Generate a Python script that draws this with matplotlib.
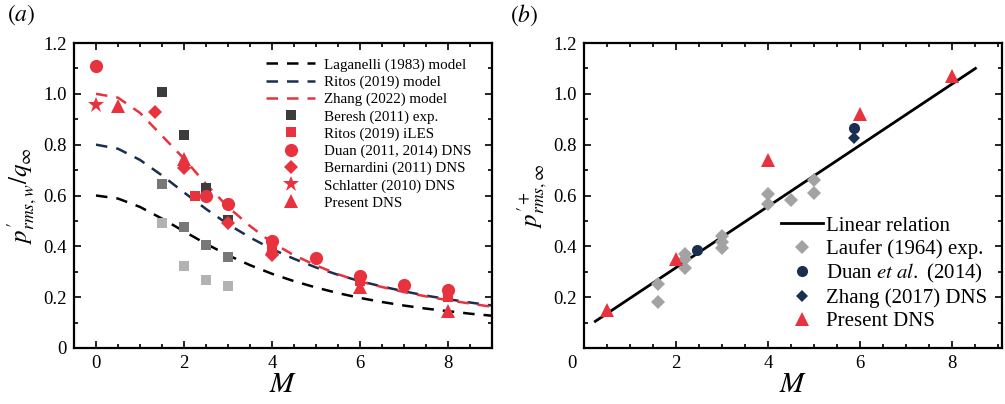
import matplotlib
matplotlib.use("Agg")
import matplotlib.pyplot as plt
from matplotlib.ticker import MultipleLocator, FixedLocator
from matplotlib.transforms import ScaledTranslation
import numpy as np

plt.rcParams['font.family'] = ['Liberation Serif', 'DejaVu Serif']
plt.rcParams['mathtext.fontset'] = 'stix'

RED = '#e8333f'
NAVY = '#1a2e50'
DARK = '#3c3c3c'
MID = '#787878'
LIGHT = '#b2b2b2'
LGRAY = '#a3a3a3'

# ---------------- panel (a) data ----------------
M_model = [0, 0.5, 1, 1.5, 2, 2.5, 3, 3.5, 4, 4.5, 5, 5.5, 6, 6.5, 7, 7.5, 8, 8.5, 9]
laganelli = [0.600, 0.588, 0.555, 0.509, 0.459, 0.410, 0.365, 0.326, 0.292, 0.263,
             0.238, 0.216, 0.197, 0.181, 0.167, 0.155, 0.145, 0.135, 0.127]
ritos_model = [0.800, 0.784, 0.740, 0.679, 0.612, 0.547, 0.487, 0.435, 0.389, 0.351,
               0.317, 0.288, 0.263, 0.242, 0.223, 0.206, 0.192, 0.179, 0.167]
zhang_model = [1.000, 0.985, 0.925, 0.835, 0.745, 0.645, 0.555, 0.480, 0.415, 0.365,
               0.325, 0.290, 0.262, 0.240, 0.220, 0.203, 0.188, 0.175, 0.162]

beresh_M = [1.5, 2, 2.5, 3]
beresh_dark = [1.008, 0.838, 0.631, 0.505]
beresh_mid = [0.644, 0.477, 0.405, 0.360]
beresh_light = [0.492, 0.323, 0.269, 0.243]

ritos_iles_M = [2.25, 4, 6, 8]
ritos_iles = [0.600, 0.400, 0.262, 0.200]

duan_M = [0, 2.5, 3, 4, 5, 6, 7, 8]
duan = [1.108, 0.598, 0.567, 0.420, 0.356, 0.285, 0.247, 0.230]

bern_M = [1.33, 2, 3, 4]
bern = [0.930, 0.708, 0.490, 0.367]

schl_M = [0]
schl = [0.958]

pres_a_M = [0.5, 2, 4, 6, 8]
pres_a = [0.951, 0.745, 0.392, 0.240, 0.147]

# ---------------- panel (b) data ----------------
lin_M = [0.25, 8.5]
lin_val = [0.105, 1.100]

laufer_M = [1.6, 1.6, 2.2, 2.2, 2.2, 3, 3, 3, 4, 4, 4.5, 5, 5]
laufer = [0.250, 0.180, 0.368, 0.350, 0.316, 0.442, 0.416, 0.395, 0.604, 0.565, 0.583, 0.660, 0.608]

duan_b_M = [2.46, 5.87]
duan_b = [0.385, 0.866]

zhang_b_M = [5.87]
zhang_b = [0.828]

pres_b_M = [0.5, 2, 4, 6, 8]
pres_b = [0.149, 0.352, 0.739, 0.919, 1.069]

fig = plt.figure(figsize=(10.05, 4.04), dpi=100)
axa = fig.add_axes([74/1005, 1-348/404, (492-74)/1005, (348-43)/404])
axb = fig.add_axes([583.8/1005, 1-348/404, (1001.7-583.8)/1005, (348-43)/404])

TICKFS = 13.5
dash = (0, (4.6, 3.6))

def style_axes(ax):
    for s in ax.spines.values():
        s.set_linewidth(1.6)
    ax.tick_params(which='both', direction='in', top=True, right=True, width=1.2,
                   labelsize=TICKFS, pad=5)
    ax.tick_params(which='major', length=5)
    ax.tick_params(which='minor', length=3)
    ax.yaxis.set_minor_locator(MultipleLocator(0.1))
    ax.xaxis.set_minor_locator(MultipleLocator(0.5))

# panel (a)
axa.plot(M_model, laganelli, color='black', lw=1.8, ls=dash, label='Laganelli (1983) model', zorder=2)
axa.plot(M_model, ritos_model, color=NAVY, lw=1.8, ls=dash, label='Ritos (2019) model', zorder=2)
axa.plot(M_model, zhang_model, color=RED, lw=1.8, ls=dash, label='Zhang (2022) model', zorder=2)

axa.plot(beresh_M, beresh_dark, ls='none', marker='s', ms=7, color=DARK, mew=0, label='Beresh (2011) exp.', zorder=3)
axa.plot(beresh_M, beresh_mid, ls='none', marker='s', ms=7, color=MID, mew=0, zorder=3)
axa.plot(beresh_M, beresh_light, ls='none', marker='s', ms=7, color=LIGHT, mew=0, zorder=3)
axa.plot(ritos_iles_M, ritos_iles, ls='none', marker='s', ms=7, color=RED, mew=0, label='Ritos (2019) iLES', zorder=4)
axa.plot(duan_M, duan, ls='none', marker='o', ms=9.5, color=RED, mew=0, label='Duan (2011, 2014) DNS', zorder=4)
axa.plot(bern_M, bern, ls='none', marker='D', ms=7.5, color=RED, mew=0, label='Bernardini (2011) DNS', zorder=4)
axa.plot(schl_M, schl, ls='none', marker='*', ms=12, color=RED, mew=0, label='Schlatter (2010) DNS', zorder=4)
axa.plot(pres_a_M, pres_a, ls='none', marker='^', ms=10, color=RED, mew=0, label='Present DNS', zorder=4)

axa.set_xlim(-0.5, 9)
axa.set_ylim(0, 1.2)
axa.xaxis.set_major_locator(FixedLocator([0, 2, 4, 6, 8]))
axa.yaxis.set_major_locator(FixedLocator([0, 0.2, 0.4, 0.6, 0.8, 1.0, 1.2]))
axa.set_yticklabels(['0', '0.2', '0.4', '0.6', '0.8', '1.0', '1.2'])
style_axes(axa)
axa.set_xlabel(r'$M$', fontsize=21, labelpad=0)
axa.set_ylabel(r"$p_{rms,w}^{\prime}/q_{\infty}$", fontsize=18, labelpad=3)
axa.legend(loc='upper right', bbox_to_anchor=(0.975, 0.985), frameon=False, fontsize=10.8,
           handlelength=3.3, handletextpad=0.55, labelspacing=0.24, borderaxespad=0.3)
fig.text(7/1005, 1-15/404, r'$(\mathit{a})$', fontsize=17, va='center', ha='left')

# panel (b)
axb.plot(lin_M, lin_val, color='black', lw=2, label='Linear relation', zorder=2)
axb.plot(laufer_M, laufer, ls='none', marker='D', ms=7.5, color=LGRAY, mew=0, label='Laufer (1964) exp.', zorder=3)
axb.plot(duan_b_M, duan_b, ls='none', marker='o', ms=8, color=NAVY, mew=0, label=r'Duan $\mathit{et\ al.}$ (2014)', zorder=4)
axb.plot(zhang_b_M, zhang_b, ls='none', marker='D', ms=6.5, color=NAVY, mew=0, label='Zhang (2017) DNS', zorder=4)
axb.plot(pres_b_M, pres_b, ls='none', marker='^', ms=10, color=RED, mew=0, label='Present DNS', zorder=5)

axb.set_xlim(0, 9.07)
axb.set_ylim(0, 1.2)
axb.xaxis.set_major_locator(FixedLocator([0, 2, 4, 6, 8]))
axb.yaxis.set_major_locator(FixedLocator([0.2, 0.4, 0.6, 0.8, 1.0, 1.2]))
axb.set_yticklabels(['0.2', '0.4', '0.6', '0.8', '1.0', '1.2'])
style_axes(axb)
axb.set_xlabel(r'$M$', fontsize=21, labelpad=0)
axb.set_ylabel(r"$p_{rms,\infty}^{\prime +}$", fontsize=18, labelpad=3)
fig.canvas.draw()
lab0 = axb.get_xticklabels()[0]
lab0.set_transform(lab0.get_transform() + ScaledTranslation(-12/100, 0, fig.dpi_scale_trans))
axb.legend(loc='lower right', bbox_to_anchor=(1.0, 0.007), frameon=False, fontsize=15,
           handlelength=2.0, handletextpad=0.15, labelspacing=0.16, borderaxespad=0.3)
fig.text(510/1005, 1-15/404, r'$(\mathit{b})$', fontsize=17, va='center', ha='left')

fig.savefig('out.png', dpi=100)
